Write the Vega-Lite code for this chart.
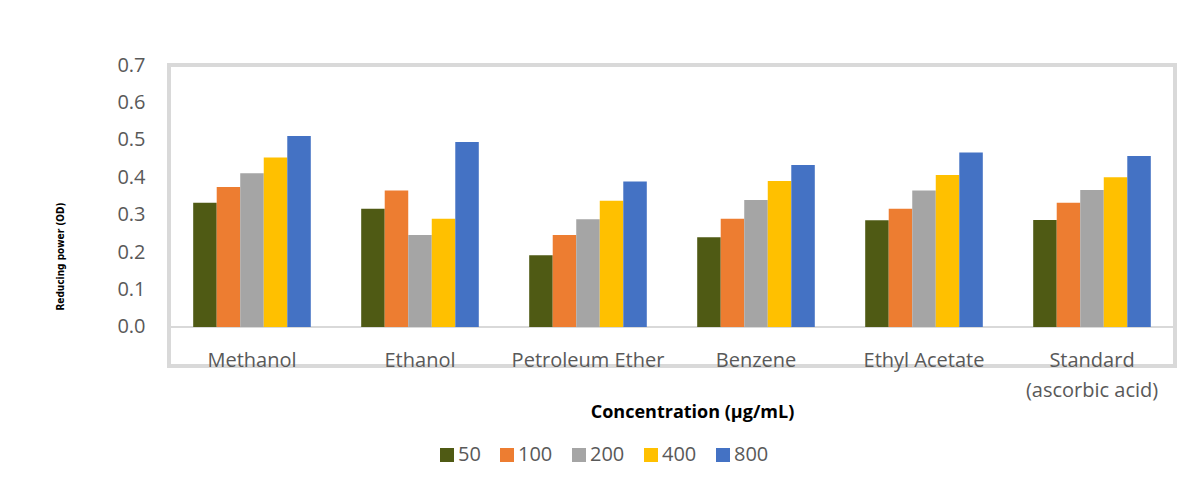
{
  "$schema": "https://vega.github.io/schema/vega-lite/v6.json",
  "autosize": {"type": "none"},
  "padding": {"left": 169, "top": 65, "right": 7, "bottom": 118},
  "width": 1006,
  "height": 301,
  "background": "white",
  "config": {
    "view": {"stroke": "#d9d9d9", "strokeWidth": 4},
    "font": "Open Sans"
  },
  "data": {
    "values": [
      {"solvent": "Methanol", "conc": "50", "value": 0.332},
      {"solvent": "Methanol", "conc": "100", "value": 0.374},
      {"solvent": "Methanol", "conc": "200", "value": 0.411},
      {"solvent": "Methanol", "conc": "400", "value": 0.453},
      {"solvent": "Methanol", "conc": "800", "value": 0.510},
      {"solvent": "Ethanol", "conc": "50", "value": 0.316},
      {"solvent": "Ethanol", "conc": "100", "value": 0.365},
      {"solvent": "Ethanol", "conc": "200", "value": 0.246},
      {"solvent": "Ethanol", "conc": "400", "value": 0.289},
      {"solvent": "Ethanol", "conc": "800", "value": 0.494},
      {"solvent": "Petroleum Ether", "conc": "50", "value": 0.192},
      {"solvent": "Petroleum Ether", "conc": "100", "value": 0.246},
      {"solvent": "Petroleum Ether", "conc": "200", "value": 0.288},
      {"solvent": "Petroleum Ether", "conc": "400", "value": 0.337},
      {"solvent": "Petroleum Ether", "conc": "800", "value": 0.389},
      {"solvent": "Benzene", "conc": "50", "value": 0.240},
      {"solvent": "Benzene", "conc": "100", "value": 0.289},
      {"solvent": "Benzene", "conc": "200", "value": 0.339},
      {"solvent": "Benzene", "conc": "400", "value": 0.390},
      {"solvent": "Benzene", "conc": "800", "value": 0.433},
      {"solvent": "Ethyl Acetate", "conc": "50", "value": 0.285},
      {"solvent": "Ethyl Acetate", "conc": "100", "value": 0.316},
      {"solvent": "Ethyl Acetate", "conc": "200", "value": 0.365},
      {"solvent": "Ethyl Acetate", "conc": "400", "value": 0.406},
      {"solvent": "Ethyl Acetate", "conc": "800", "value": 0.466},
      {"solvent": "Standard\n(ascorbic acid)", "conc": "50", "value": 0.286},
      {"solvent": "Standard\n(ascorbic acid)", "conc": "100", "value": 0.332},
      {"solvent": "Standard\n(ascorbic acid)", "conc": "200", "value": 0.366},
      {"solvent": "Standard\n(ascorbic acid)", "conc": "400", "value": 0.400},
      {"solvent": "Standard\n(ascorbic acid)", "conc": "800", "value": 0.457}
    ]
  },
  "layer": [
    {
      "mark": {"type": "rule", "color": "#d9d9d9", "strokeWidth": 2},
      "encoding": {
        "y": {"datum": 0, "type": "quantitative", "scale": {"domain": [-0.1042, 0.7]}}
      }
    },
    {
      "mark": {"type": "bar"},
      "encoding": {
        "x": {
          "field": "solvent",
          "type": "nominal",
          "sort": null,
          "scale": {"paddingInner": 0.3, "paddingOuter": 0.144},
          "axis": {
            "orient": "bottom",
            "domain": false,
            "ticks": false,
            "tickSize": 0,
            "labelAngle": 0,
            "labelBaseline": "alphabetic",
            "labelPadding": 0,
            "labelFontSize": 20,
            "labelColor": "#595959",
            "labelFont": "Open Sans",
            "labelLineHeight": 30,
            "labelExpr": "split(datum.label, '\\n')",
            "title": "Concentration (µg/mL)",
            "titleFont": "Open Sans",
            "titleFontWeight": "bold",
            "titleFontSize": 18,
            "titleColor": "#000000",
            "titleX": 523,
            "titleY": 46,
            "titleBaseline": "middle",
            "titleAlign": "center"
          }
        },
        "xOffset": {
          "field": "conc",
          "type": "nominal",
          "sort": ["50", "100", "200", "400", "800"],
          "scale": {"paddingInner": 0, "paddingOuter": 0}
        },
        "y": {
          "field": "value",
          "type": "quantitative",
          "scale": {"domain": [-0.1042, 0.7], "nice": false, "zero": false},
          "axis": {
            "values": [0, 0.1, 0.2, 0.3, 0.4, 0.5, 0.6, 0.7],
            "format": ".1f",
            "grid": false,
            "domain": false,
            "ticks": false,
            "tickSize": 0,
            "labelPadding": 24,
            "labelFontSize": 20,
            "labelColor": "#595959",
            "labelFont": "Open Sans",
            "title": "Reducing power (OD)",
            "titleFont": "DejaVu Sans Condensed",
            "titleFontSize": 10,
            "titleFontWeight": "bold",
            "titleColor": "#000000",
            "titleAngle": -90,
            "titleX": -109,
            "titleY": 191,
            "titleAlign": "center",
            "titleBaseline": "middle"
          }
        },
        "y2": {"datum": 0},
        "color": {
          "field": "conc",
          "type": "nominal",
          "scale": {
            "domain": ["50", "100", "200", "400", "800"],
            "range": ["#4f5a14", "#ed7d31", "#a5a5a5", "#ffc000", "#4472c4"]
          },
          "legend": {
            "orient": "none",
            "legendX": 268,
            "legendY": 380,
            "direction": "horizontal",
            "title": null,
            "symbolType": "square",
            "symbolSize": 196,
            "symbolStrokeWidth": 0,
            "symbolOpacity": 1,
            "labelFontSize": 20,
            "labelColor": "#595959",
            "labelFont": "Open Sans",
            "labelOffset": 1,
            "columnPadding": 16
          }
        }
      }
    }
  ]
}
